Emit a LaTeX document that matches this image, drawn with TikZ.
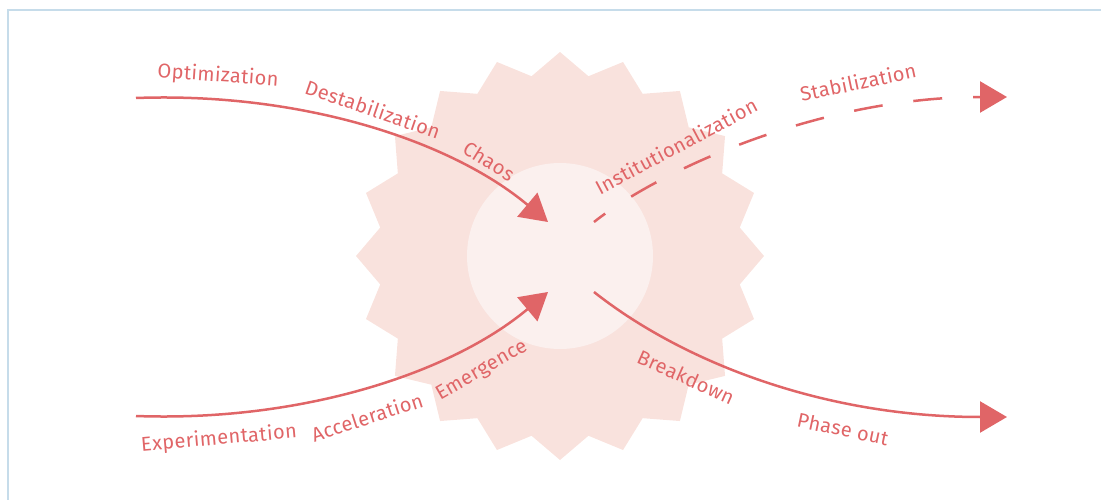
\documentclass[tikz,border=0pt]{standalone}
\usepackage{fontspec}
\setmainfont[LetterSpace=2]{Fira Sans}
\usetikzlibrary{arrows.meta,calc}
\definecolor{accent}{HTML}{E06567}
\definecolor{starfill}{HTML}{F9E2DD}
\definecolor{corefill}{HTML}{FBF0EE}
\definecolor{frameline}{HTML}{C6DCEA}
\tikzset{
  lbl/.style={text=accent, font=\fontsize{20}{23}\selectfont, inner sep=0pt},
  flow/.style={draw=accent, line width=2.5pt, -{Triangle[length=27pt,width=31pt]}},
  dashflow/.style={flow, dash pattern=on 29pt off 31pt, dash phase=15pt},
}
\begin{document}
\begin{tikzpicture}[x=1pt,y=-1pt]
\useasboundingbox (0,0) rectangle (1101,500);
\draw[frameline, line width=1.5pt] (8,500) -- (8,10) -- (1101,10);
\coordinate (c) at (560,256);
\fill[starfill] ($(c)+(90:204)$) \foreach \k in {0,...,19}{ -- ($(c)+({99+18*\k}:182)$) -- ($(c)+({108+18*\k}:204)$) } -- cycle;
\node[circle, fill=corefill, minimum size=186pt, inner sep=0pt] (core) at (c) {};
% coordinates
\coordinate (s1) at (136,98);
\coordinate (t1) at (548,222);
\coordinate (s2) at (136,416);
\coordinate (t2) at (548,292);
\coordinate (s3) at (594,222);
\coordinate (t3) at (1007,97);
\coordinate (s4) at (594,292);
\coordinate (t4) at (1007,417);
\draw[flow] (s1) .. controls (300,92) and (450,140) .. (t1);
\draw[flow] (s2) .. controls (300,422) and (450,374) .. (t2);
\draw[dashflow] (s3) .. controls (660,170) and (820,97) .. (t3);
\draw[flow] (s4) .. controls (680,360) and (820,417) .. (t4);
% labels
\node[lbl, rotate=-4] (l1) at (218,76) {Optimization};
\node[lbl, rotate=-19] (l2) at (373,109) {Destabilization};
\node[lbl, rotate=-32] (l3) at (489,161) {Chaos};
\node[lbl, rotate=28] (l4) at (676,146) {Institutionalization};
\node[lbl, rotate=12] (l5) at (858,82) {Stabilization};
\node[lbl, rotate=5] (l6) at (219,439) {Experimentation};
\node[lbl, rotate=18] (l7) at (367,417) {Acceleration};
\node[lbl, rotate=30] (l8) at (482,371) {Emergence};
\node[lbl, rotate=-24] (l9) at (686,377) {Breakdown};
\node[lbl, rotate=-12] (l10) at (843,429) {Phase out};
\end{tikzpicture}
\end{document}
